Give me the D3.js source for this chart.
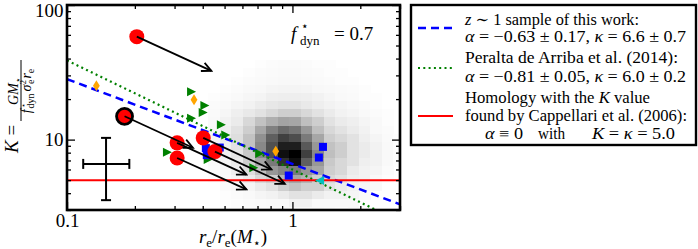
<!DOCTYPE html>
<html>
<head>
<meta charset="utf-8">
<script src="https://cdn.jsdelivr.net/npm/d3@7"></script>
<style>
body { margin: 0; background: #fff; }
svg text { font-family: 'Liberation Serif', 'DejaVu Serif', serif; fill: #000; }
.it { font-style: italic; }
</style>
</head>
<body>
<div id="graphic"></div>
<script>
// Red circles: before (start) and after (end of arrow)
var redRatio = [0.204, 0.180, 0.308, 0.308, 0.402, 0.453];
var redK = [58.2, 14.9, 9.46, 7.3, 10.3, 8.15];
var redRatioNew = [0.437, 0.362, 0.625, 0.625, 0.807, 0.925];
var redKNew = [32.4, 8.7, 5.5, 4.27, 6.0, 4.7];
var redOutlined = [false, true, false, false, false, false];

// Blue squares
var squareRatio = [0.413, 0.417, 0.476, 1.366, 1.31, 0.963];
var squareK = [8.65, 7.67, 8.73, 8.83, 7.36, 5.41];

// Green triangles
var triRatio = [0.357, 0.409, 0.402, 0.357, 0.484, 0.506, 0.279, 0.423, 0.461, 0.716, 0.674];
var triK = [22.7, 17.9, 15.9, 14.4, 12.9, 10.8, 8.06, 7.11, 8.19, 7.87, 6.17];

// Orange diamonds
var diamondRatio = [0.135, 0.366, 0.843];
var diamondK = [25.1, 19.8, 8.19];

// Cyan triangle
var cyanRatio = [1.32];
var cyanK = [4.97];

// Typical error bar: low, centre, high
var errRatio = [0.118, 0.149, 0.189];
var errK = [3.55, 6.6, 10.3];

// Fitted relations K = kappa * x^alpha
var fitAlpha = [-0.63, -0.81, 0];
var fitKappa = [6.6, 6.0, 5.0];
var fitColor = ['#0000ff', '#008000', '#ff0000'];
var fitDash = ['8,5', '2,3.3', null];
var fitWidth = [2.5, 2.2, 2];

// 2D histogram of the comparison sample (log10 bin edges, darkness 0..1)
var histLogX = [-0.374, -0.323, -0.271, -0.220, -0.168, -0.117, -0.066, -0.014, 0.037, 0.088, 0.140, 0.191, 0.243, 0.294, 0.346, 0.397, 0.448, 0.500];
var histLogK = [1.590, 1.529, 1.468, 1.408, 1.347, 1.286, 1.226, 1.165, 1.104, 1.044, 0.983, 0.922, 0.862, 0.801, 0.740, 0.680, 0.619, 0.558, 0.498, 0.437];
var histDensity = [
    [0, 0, 0, 0, 0.02, 0.03, 0.04, 0.04, 0.03, 0.02, 0.02, 0, 0, 0, 0, 0, 0],
    [0, 0, 0, 0.02, 0.03, 0.04, 0.05, 0.05, 0.04, 0.03, 0.02, 0.02, 0, 0, 0, 0, 0],
    [0, 0, 0.02, 0.03, 0.04, 0.05, 0.06, 0.06, 0.05, 0.04, 0.03, 0.02, 0.02, 0, 0, 0, 0],
    [0, 0.02, 0.03, 0.05, 0.06, 0.08, 0.09, 0.09, 0.08, 0.06, 0.05, 0.04, 0.03, 0.02, 0, 0, 0],
    [0.02, 0.03, 0.05, 0.07, 0.09, 0.12, 0.13, 0.13, 0.12, 0.1, 0.07, 0.05, 0.04, 0.02, 0.02, 0, 0],
    [0.03, 0.05, 0.08, 0.1, 0.14, 0.17, 0.19, 0.19, 0.16, 0.13, 0.1, 0.08, 0.06, 0.04, 0.02, 0, 0],
    [0.04, 0.07, 0.12, 0.16, 0.2, 0.25, 0.3, 0.3, 0.25, 0.2, 0.15, 0.1, 0.08, 0.05, 0.03, 0.02, 0],
    [0.05, 0.1, 0.15, 0.25, 0.35, 0.42, 0.46, 0.45, 0.36, 0.3, 0.2, 0.15, 0.12, 0.08, 0.05, 0.02, 0],
    [0.06, 0.12, 0.2, 0.3, 0.45, 0.58, 0.66, 0.62, 0.5, 0.36, 0.25, 0.2, 0.15, 0.1, 0.05, 0.03, 0],
    [0.07, 0.14, 0.22, 0.35, 0.52, 0.7, 0.8, 0.76, 0.6, 0.45, 0.3, 0.25, 0.2, 0.12, 0.08, 0.04, 0.02],
    [0.06, 0.12, 0.2, 0.35, 0.55, 0.75, 0.9, 0.9, 0.72, 0.5, 0.35, 0.3, 0.2, 0.15, 0.1, 0.05, 0.02],
    [0.05, 0.1, 0.18, 0.32, 0.55, 0.75, 0.95, 1.0, 0.8, 0.55, 0.36, 0.3, 0.2, 0.15, 0.1, 0.05, 0.02],
    [0.04, 0.08, 0.15, 0.3, 0.45, 0.6, 0.85, 0.95, 0.7, 0.5, 0.32, 0.25, 0.2, 0.12, 0.1, 0.05, 0.02],
    [0.03, 0.06, 0.12, 0.22, 0.35, 0.5, 0.56, 0.6, 0.5, 0.45, 0.3, 0.25, 0.15, 0.1, 0.08, 0.03, 0],
    [0.02, 0.05, 0.08, 0.15, 0.25, 0.3, 0.4, 0.45, 0.4, 0.3, 0.25, 0.2, 0.12, 0.1, 0.05, 0.02, 0],
    [0, 0.03, 0.05, 0.08, 0.15, 0.2, 0.3, 0.35, 0.3, 0.3, 0.2, 0.15, 0.1, 0.08, 0.05, 0, 0],
    [0, 0.02, 0.03, 0.05, 0.08, 0.1, 0.15, 0.2, 0.2, 0.15, 0.1, 0.1, 0.08, 0.05, 0, 0, 0],
    [0, 0, 0.02, 0.03, 0.04, 0.05, 0.05, 0.1, 0.1, 0.05, 0.05, 0.05, 0.05, 0, 0, 0, 0],
    [0, 0, 0, 0.02, 0.03, 0.03, 0.04, 0.05, 0.05, 0.04, 0.03, 0.02, 0, 0, 0, 0, 0]
];

// Ticks
var xTickMajor = [0.1, 1];
var xTickMinor = [0.2, 0.3, 0.4, 0.5, 0.6, 0.7, 0.8, 0.9, 2, 3];
var yTickMajor = [10, 100];
var yTickMinor = [3, 4, 5, 6, 7, 8, 9, 20, 30, 40, 50, 60, 70, 80, 90];

// Legend text, one row per printed line
var legendLines = [
    [['z', 1], [' ∼ 1 sample of this work:']],
    [['α', 1], [' = −0.63 ± 0.17, '], ['κ', 1], [' = 6.6 ± 0.7']],
    [['Peralta de Arriba et al. (2014):']],
    [['α', 1], [' = −0.81 ± 0.05, '], ['κ', 1], [' = 6.0 ± 0.2']],
    [['Homology with the '], ['K', 1], [' value']],
    [['found by Cappellari et al. (2006):']],
    [['α', 1], [' ≡ 0']],
    [['with']],
    [['K', 1], [' = '], ['κ', 1], [' = 5.0']]
];

var SERIF = "'Liberation Serif', 'DejaVu Serif', serif";
var margins = { top: 5, right: 298, bottom: 39, left: 67 };
var width = 698, height = 249;

/*
 * Render the graphic.
 */
var render = function() {
    var chartWidth = width - margins.left - margins.right;
    var chartHeight = height - margins.top - margins.bottom;

    var svg = d3.select('#graphic').append('svg')
        .attr('width', width)
        .attr('height', height)
        .attr('font-family', SERIF);

    var defs = svg.append('defs');
    defs.append('clipPath').attr('id', 'plot-clip')
        .append('rect')
        .attr('width', chartWidth)
        .attr('height', chartHeight);

    defs.append('marker')
        .attr('id', 'head')
        .attr('viewBox', '-12 -7 14 14')
        .attr('refX', 0).attr('refY', 0)
        .attr('markerWidth', 14).attr('markerHeight', 14)
        .attr('markerUnits', 'userSpaceOnUse')
        .attr('orient', 'auto')
        .append('path')
        .attr('d', 'M-9.5,-4.5L0,0L-9.5,4.5')
        .attr('fill', 'none')
        .attr('stroke', '#000')
        .attr('stroke-width', 1.8);

    var chart = svg.append('g')
        .attr('transform', 'translate(' + margins.left + ',' + margins.top + ')');

    var x = d3.scaleLog().domain([0.1, 3]).range([0, chartWidth]);
    var y = d3.scaleLog().domain([3, 100]).range([chartHeight, 0]);

    var plot = chart.append('g').attr('clip-path', 'url(#plot-clip)');

    // histogram cells
    var cells = [];
    histDensity.forEach(function(row, i) {
        row.forEach(function(v, j) {
            if (v > 0) cells.push({ i: i, j: j, v: v });
        });
    });
    plot.append('g').selectAll('rect')
        .data(cells)
        .enter().append('rect')
        .attr('x', function(d) { return x(Math.pow(10, histLogX[d.j])); })
        .attr('width', function(d) { return x(Math.pow(10, histLogX[d.j + 1])) - x(Math.pow(10, histLogX[d.j])) + 0.5; })
        .attr('y', function(d) { return y(Math.pow(10, histLogK[d.i])); })
        .attr('height', function(d) { return y(Math.pow(10, histLogK[d.i + 1])) - y(Math.pow(10, histLogK[d.i])) + 0.5; })
        .attr('fill', function(d) { return d3.interpolateGreys(d.v); })
        .attr('shape-rendering', 'crispEdges');

    // fitted relations
    var xEnds = x.domain();
    fitAlpha.forEach(function(a, k) {
        plot.append('line')
            .attr('x1', x(xEnds[0])).attr('y1', y(fitKappa[k] * Math.pow(xEnds[0], a)))
            .attr('x2', x(xEnds[1])).attr('y2', y(fitKappa[k] * Math.pow(xEnds[1], a)))
            .attr('stroke', fitColor[k])
            .attr('stroke-width', fitWidth[k])
            .attr('stroke-dasharray', fitDash[k]);
    });

    // error bar
    var eb = plot.append('g').attr('stroke', '#000').attr('stroke-width', 2).attr('fill', 'none');
    eb.append('line').attr('x1', x(errRatio[0])).attr('x2', x(errRatio[2]))
        .attr('y1', y(errK[1])).attr('y2', y(errK[1]));
    eb.append('line').attr('x1', x(errRatio[1])).attr('x2', x(errRatio[1]))
        .attr('y1', y(errK[0])).attr('y2', y(errK[2]));
    [0, 2].forEach(function(k) {
        eb.append('line').attr('x1', x(errRatio[k])).attr('x2', x(errRatio[k]))
            .attr('y1', y(errK[1]) - 5).attr('y2', y(errK[1]) + 5);
        eb.append('line').attr('x1', x(errRatio[1]) - 5).attr('x2', x(errRatio[1]) + 5)
            .attr('y1', y(errK[k])).attr('y2', y(errK[k]));
    });

    // markers
    plot.append('g').selectAll('path')
        .data(triRatio)
        .enter().append('path')
        .attr('d', 'M4.5,0L-4.5,-4.5L-4.5,4.5Z')
        .attr('transform', function(d, i) { return 'translate(' + x(d) + ',' + y(triK[i]) + ')'; })
        .attr('fill', '#008000');

    plot.append('g').selectAll('path')
        .data(diamondRatio)
        .enter().append('path')
        .attr('d', 'M0,-5.5L3.4,0L0,5.5L-3.4,0Z')
        .attr('transform', function(d, i) { return 'translate(' + x(d) + ',' + y(diamondK[i]) + ')'; })
        .attr('fill', '#ffa500');

    plot.append('g').selectAll('path')
        .data(cyanRatio)
        .enter().append('path')
        .attr('d', 'M-4.5,0L4.5,-4.5L4.5,4.5Z')
        .attr('transform', function(d, i) { return 'translate(' + x(d) + ',' + y(cyanK[i]) + ')'; })
        .attr('fill', '#00bfbf');

    plot.append('g').selectAll('rect')
        .data(squareRatio)
        .enter().append('rect')
        .attr('x', function(d) { return x(d) - 4; })
        .attr('y', function(d, i) { return y(squareK[i]) - 4; })
        .attr('width', 8).attr('height', 8)
        .attr('fill', '#0000ff');

    plot.append('g').selectAll('circle')
        .data(redRatio)
        .enter().append('circle')
        .attr('cx', function(d) { return x(d); })
        .attr('cy', function(d, i) { return y(redK[i]); })
        .attr('r', function(d, i) { return redOutlined[i] ? 8 : 7.5; })
        .attr('fill', '#ff0000')
        .attr('stroke', function(d, i) { return redOutlined[i] ? '#000' : 'none'; })
        .attr('stroke-width', 2.8);

    // arrows
    plot.append('g').selectAll('line')
        .data(redRatio)
        .enter().append('line')
        .attr('x1', function(d) { return x(d); })
        .attr('y1', function(d, i) { return y(redK[i]); })
        .attr('x2', function(d, i) { return x(redRatioNew[i]); })
        .attr('y2', function(d, i) { return y(redKNew[i]); })
        .attr('stroke', '#000')
        .attr('stroke-width', 1.8)
        .attr('marker-end', 'url(#head)');

    // axes (ticks point inward on all four sides)
    var fmtX = function(d) { return d === 0.1 ? '0.1' : '1'; };
    function addAxis(axisFn, translate, major, minor, labels) {
        var gMaj = chart.append('g').attr('transform', translate)
            .call(axisFn.tickValues(major).tickSize(-8).tickPadding(labels ? 3.5 : 0)
                .tickFormat(labels ? labels : ''));
        var gMin = chart.append('g').attr('transform', translate)
            .call(axisFn.tickValues(minor).tickSize(-4).tickFormat(''));
        [gMaj, gMin].forEach(function(g) {
            g.attr('font-family', SERIF);
            g.select('.domain').remove();
            g.selectAll('line').attr('stroke', '#000').attr('stroke-width', 1.3);
            g.selectAll('text').style('font-size', '19px')
                .style('font-family', SERIF)
                .attr('fill', '#000');
        });
        return gMaj;
    }
    addAxis(d3.axisBottom(x), 'translate(0,' + chartHeight + ')', xTickMajor, xTickMinor, fmtX);
    addAxis(d3.axisTop(x), 'translate(0,0)', xTickMajor, xTickMinor, null);
    var yAx = addAxis(d3.axisLeft(y), 'translate(0,0)', yTickMajor, yTickMinor, d3.format('d'));
    addAxis(d3.axisRight(y), 'translate(' + chartWidth + ',0)', yTickMajor, yTickMinor, null);
    // keep the top label inside the picture
    yAx.selectAll('text').filter(function(d) { return d === 100; }).attr('dy', '0.58em');

    chart.append('rect')
        .attr('width', chartWidth).attr('height', chartHeight)
        .attr('fill', 'none').attr('stroke', '#000').attr('stroke-width', 2.6);

    // f*_dyn annotation
    svg.append('text').attr('class', 'it').attr('x', 291).attr('y', 40).style('font-size', '19px').text('f');
    svg.append('text').attr('x', 301).attr('y', 30).style('font-size', '12px').text('⋆');
    svg.append('text').attr('x', 300).attr('y', 45).style('font-size', '13px').text('dyn');
    svg.append('text').attr('x', 334).attr('y', 40).style('font-size', '19px').text('= 0.7');

    // x label
    var xl = svg.append('text').attr('x', 233).attr('y', 243).attr('text-anchor', 'middle').style('font-size', '19px');
    xl.append('tspan').attr('class', 'it').text('r');
    xl.append('tspan').attr('dy', 4).style('font-size', '13px').text('e');
    xl.append('tspan').attr('dy', -4).text('/');
    xl.append('tspan').attr('class', 'it').text('r');
    xl.append('tspan').attr('dy', 4).style('font-size', '13px').text('e');
    xl.append('tspan').attr('dy', -4).text('(');
    xl.append('tspan').attr('class', 'it').text('M');
    xl.append('tspan').attr('dy', 4).style('font-size', '12px').text('⋆');
    xl.append('tspan').attr('dy', -4).text(')');

    // y label (rotated)
    var yl = svg.append('g').attr('transform', 'rotate(-90)');
    var kEq = yl.append('text').attr('x', -153).attr('y', 18).style('font-size', '19px');
    kEq.append('tspan').attr('class', 'it').text('K');
    kEq.append('tspan').text(' =');
    yl.append('line').attr('x1', -121).attr('x2', -60).attr('y1', 21).attr('y2', 21)
        .attr('stroke', '#000').attr('stroke-width', 1);
    var num = yl.append('text').attr('x', -91).attr('y', 18).attr('text-anchor', 'middle').style('font-size', '14px');
    num.append('tspan').attr('class', 'it').text('GM');
    num.append('tspan').attr('dy', 3).style('font-size', '9px').text('⋆');
    var den = yl.append('text').attr('x', -91).attr('y', 31).attr('text-anchor', 'middle').style('font-size', '14px');
    den.append('tspan').attr('class', 'it').text('f');
    den.append('tspan').attr('dy', -5).attr('dx', 1).style('font-size', '8px').text('⋆');
    den.append('tspan').attr('dy', 8).attr('dx', -5).style('font-size', '10px').text('dyn');
    den.append('tspan').attr('dy', -3).attr('dx', 2).attr('class', 'it').text('σ');
    den.append('tspan').attr('dy', -5).style('font-size', '9px').text('2');
    den.append('tspan').attr('dy', 8).attr('dx', -4).style('font-size', '10px').text('e');
    den.append('tspan').attr('dy', -3).attr('dx', 1).attr('class', 'it').text('r');
    den.append('tspan').attr('dy', 3).style('font-size', '10px').text('e');

    // legend
    var lg = svg.append('g');
    lg.append('rect').attr('x', 411).attr('y', 5).attr('width', 285).attr('height', 140)
        .attr('fill', '#fff').attr('stroke', '#000').attr('stroke-width', 2.4);
    var sampleY = [28, 68, 116];
    fitColor.forEach(function(c, k) {
        lg.append('line').attr('x1', 418).attr('x2', 453)
            .attr('y1', sampleY[k]).attr('y2', sampleY[k])
            .attr('stroke', c).attr('stroke-width', fitWidth[k])
            .attr('stroke-dasharray', fitDash[k]);
    });
    // layout of each printed line: x, baseline, width in the reference
    var lineX = [465, 465, 465, 465, 465, 465, 485, 538, 592];
    var lineY = [25, 42, 63, 82, 103, 121, 139, 139, 139];
    var lineW = [174, 221, 213, 221, 185, 222, 38, 27, 83];
    legendLines.forEach(function(parts, k) {
        var t = lg.append('text')
            .attr('x', lineX[k]).attr('y', lineY[k])
            .attr('textLength', lineW[k])
            .attr('lengthAdjust', 'spacingAndGlyphs')
            .style('font-size', '16px');
        parts.forEach(function(p) {
            var s = t.append('tspan').text(p[0]);
            if (p[1]) s.attr('class', 'it');
        });
    });
};

render();
</script>
</body>
</html>
